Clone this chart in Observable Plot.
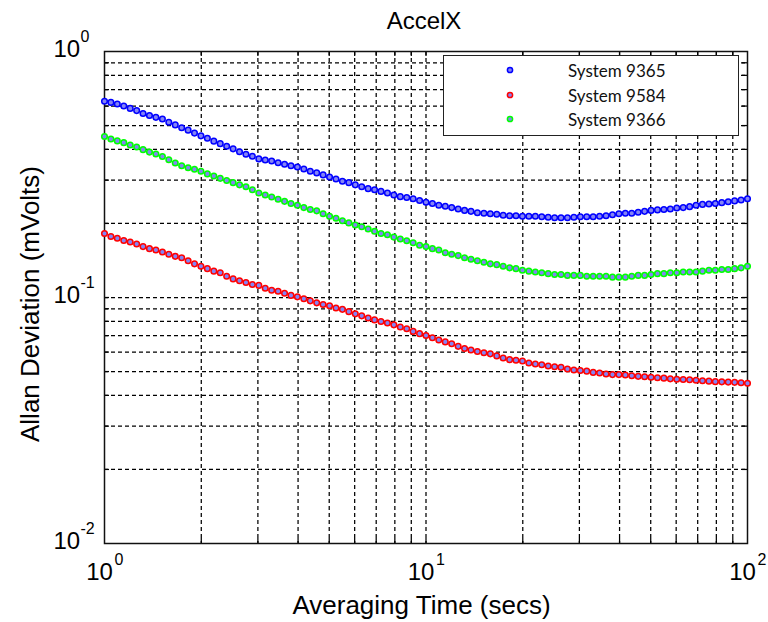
<!DOCTYPE html>
<html>
<head>
<meta charset="utf-8">
<script src="https://cdn.jsdelivr.net/npm/d3@7"></script>
<script src="https://cdn.jsdelivr.net/npm/@observablehq/plot@0.6"></script>
<style>
  html, body { margin: 0; padding: 0; background: #fff; }
  #wrap { position: relative; width: 768px; height: 622px; }
  #legend { position: absolute; left: 443px; top: 55px; width: 296px; height: 81px;
    box-sizing: border-box; border: 1.5px solid #222; background: #fff;
    font-family: Lato, "Open Sans", sans-serif; font-size: 17px; color: #111; }
  .row { position: absolute; left: 0; height: 20px; display: flex; align-items: center; }
  .row svg { position: absolute; left: 61px; }
  .row span { position: absolute; left: 124px; white-space: nowrap; }
</style>
</head>
<body>
<div id="wrap"></div>
<script>
// Averaging time (secs)
const tau = [1, 1.047, 1.096, 1.148, 1.202, 1.259, 1.318, 1.380, 1.445, 1.514,
  1.585, 1.660, 1.738, 1.820, 1.905, 1.995, 2.089, 2.188, 2.291, 2.399,
  2.512, 2.630, 2.754, 2.884, 3.020, 3.162, 3.311, 3.467, 3.631, 3.802,
  3.981, 4.169, 4.365, 4.571, 4.786, 5.012, 5.248, 5.495, 5.754, 6.026,
  6.310, 6.607, 6.918, 7.244, 7.586, 7.943, 8.318, 8.710, 9.120, 9.550,
  10.00, 10.47, 10.96, 11.48, 12.02, 12.59, 13.18, 13.80, 14.45, 15.14,
  15.85, 16.60, 17.38, 18.20, 19.05, 19.95, 20.89, 21.88, 22.91, 23.99,
  25.12, 26.30, 27.54, 28.84, 30.20, 31.62, 33.11, 34.67, 36.31, 38.02,
  39.81, 41.69, 43.65, 45.71, 47.86, 50.12, 52.48, 54.95, 57.54, 60.26,
  63.10, 66.07, 69.18, 72.44, 75.86, 79.43, 83.18, 87.10, 91.20, 95.50,
  100];

// Allan deviation (mVolts)
const sys9365 = [0.628, 0.621, 0.612, 0.600, 0.587, 0.575, 0.560, 0.549, 0.540, 0.532,
  0.516, 0.503, 0.490, 0.479, 0.466, 0.454, 0.444, 0.432, 0.422, 0.412,
  0.402, 0.391, 0.382, 0.375, 0.366, 0.362, 0.359, 0.353, 0.348, 0.343,
  0.339, 0.333, 0.326, 0.321, 0.315, 0.309, 0.303, 0.297, 0.293, 0.287,
  0.282, 0.277, 0.274, 0.270, 0.266, 0.261, 0.257, 0.255, 0.252, 0.248,
  0.244, 0.241, 0.237, 0.235, 0.232, 0.229, 0.226, 0.224, 0.221, 0.220,
  0.219, 0.218, 0.216, 0.215, 0.215, 0.214, 0.214, 0.214, 0.213, 0.212,
  0.211, 0.211, 0.211, 0.212, 0.213, 0.213, 0.213, 0.214, 0.215, 0.217,
  0.219, 0.220, 0.220, 0.222, 0.224, 0.226, 0.227, 0.228, 0.229, 0.231,
  0.232, 0.234, 0.237, 0.239, 0.240, 0.241, 0.243, 0.245, 0.247, 0.249,
  0.252];

const sys9584 = [0.182, 0.177, 0.174, 0.1705, 0.168, 0.165, 0.161, 0.158, 0.156, 0.153,
  0.150, 0.147, 0.145, 0.141, 0.137, 0.134, 0.131, 0.128, 0.126, 0.122,
  0.119, 0.117, 0.115, 0.113, 0.112, 0.109, 0.107, 0.106, 0.104, 0.102,
  0.1006, 0.0988, 0.0969, 0.0951, 0.0937, 0.0926, 0.0907, 0.0895, 0.0876, 0.0858,
  0.0842, 0.0825, 0.0811, 0.0799, 0.0788, 0.0774, 0.0759, 0.0746, 0.0728, 0.0713,
  0.0701, 0.0686, 0.0672, 0.0660, 0.0649, 0.0633, 0.0620, 0.0612, 0.0603, 0.0596,
  0.0590, 0.0579, 0.0568, 0.0559, 0.0556, 0.0552, 0.0542, 0.0537, 0.0533, 0.0527,
  0.0523, 0.0520, 0.0512, 0.0507, 0.0505, 0.0502, 0.0496, 0.0493, 0.0489, 0.0486,
  0.0486, 0.0484, 0.0481, 0.0478, 0.0476, 0.0474, 0.0472, 0.0470, 0.0467, 0.0465,
  0.0464, 0.0463, 0.0461, 0.0459, 0.0457, 0.0455, 0.0454, 0.0453, 0.0452, 0.0450,
  0.0448];

const sys9366 = [0.451, 0.441, 0.433, 0.426, 0.417, 0.409, 0.399, 0.390, 0.383, 0.374,
  0.363, 0.352, 0.343, 0.337, 0.332, 0.326, 0.318, 0.312, 0.305, 0.299,
  0.293, 0.287, 0.282, 0.274, 0.266, 0.261, 0.256, 0.251, 0.246, 0.241,
  0.237, 0.232, 0.228, 0.225, 0.219, 0.214, 0.210, 0.205, 0.201, 0.197,
  0.194, 0.190, 0.186, 0.182, 0.180, 0.176, 0.173, 0.170, 0.167, 0.163,
  0.161, 0.158, 0.156, 0.152, 0.150, 0.148, 0.145, 0.143, 0.141, 0.139,
  0.137, 0.136, 0.134, 0.132, 0.131, 0.129, 0.128, 0.127, 0.126, 0.125,
  0.124, 0.124, 0.123, 0.123, 0.123, 0.122, 0.122, 0.122, 0.122, 0.121,
  0.121, 0.121, 0.122, 0.123, 0.123, 0.124, 0.125, 0.125, 0.126, 0.126,
  0.127, 0.127, 0.127, 0.128, 0.129, 0.129, 0.130, 0.130, 0.131, 0.132,
  0.134];

const seriesNames = ["System 9365", "System 9584", "System 9366"];
const seriesColors = ["#0000ff", "#ff0000", "#00ff00"];
const markerFill = "#8484f4";

const xTicks = [1, 10, 100];
const xTickExp = ["0", "1", "2"];
const yTicks = [0.01, 0.1, 1];
const yTickExp = ["-2", "-1", "0"];
const xGrid = [2, 3, 4, 5, 6, 7, 8, 9, 10, 20, 30, 40, 50, 60, 70, 80, 90];
const yGrid = [0.02, 0.03, 0.04, 0.05, 0.06, 0.07, 0.08, 0.09, 0.1,
  0.2, 0.3, 0.4, 0.5, 0.6, 0.7, 0.8, 0.9];

const titleText = "AccelX";
const xLabel = "Averaging Time (secs)";
const yLabel = "Allan Deviation (mVolts)";

const seriesValues = [sys9365, sys9584, sys9366];
const data = [];
seriesNames.forEach((name, s) => {
  tau.forEach((t, i) => data.push({series: name, tau: t, value: seriesValues[s][i]}));
});

const W = 768, H = 622, mL = 104, mR = 21, mT = 51, mB = 79;
const fh = H - mT - mB, fw = W - mL - mR;
const font = "'Liberation Sans', Arial, sans-serif";

const chart = Plot.plot({
  width: W, height: H,
  marginLeft: mL, marginRight: mR, marginTop: mT, marginBottom: mB,
  x: {type: "log", domain: [1, 100], axis: null},
  y: {type: "log", domain: [0.01, 1], axis: null},
  color: {domain: seriesNames, range: seriesColors},
  style: {background: "white", fontFamily: font, color: "#000", overflow: "visible"},
  marks: [
    Plot.ruleX(xGrid, {x: d => d, stroke: "#000", strokeWidth: 1.25, strokeDasharray: "4,3"}),
    Plot.ruleY(yGrid, {y: d => d, stroke: "#000", strokeWidth: 1.25, strokeDasharray: "4,3"}),
    Plot.ruleX(xGrid, {x: d => d, insetBottom: fh - 5, stroke: "#000", strokeWidth: 1.25}),
    Plot.ruleX(xGrid, {x: d => d, insetTop: fh - 5, stroke: "#000", strokeWidth: 1.25}),
    Plot.ruleY(yGrid, {y: d => d, insetRight: fw - 5, stroke: "#000", strokeWidth: 1.25}),
    Plot.ruleY(yGrid, {y: d => d, insetLeft: fw - 5, stroke: "#000", strokeWidth: 1.25}),
    Plot.frame({stroke: "#111", strokeWidth: 1.5}),
    Plot.dot(data, {x: "tau", y: "value", stroke: "series", fill: markerFill, r: 2.8, strokeWidth: 1.5}),
    // x tick labels 10^k
    Plot.text(xTicks, {x: d => d, frameAnchor: "bottom", text: () => "10", dx: -5, dy: 29,
      textAnchor: "middle", fontSize: 24, lineAnchor: "middle", fill: "#000"}),
    Plot.text(xTicks, {x: d => d, frameAnchor: "bottom", text: (d, i) => xTickExp[i], dx: 14.5, dy: 16,
      textAnchor: "middle", fontSize: 16, lineAnchor: "middle", fill: "#000"}),
    // y tick labels 10^k
    Plot.text(yTicks, {y: d => d, frameAnchor: "left", text: () => "10", dx: -51, dy: -2,
      textAnchor: "start", fontSize: 24, lineAnchor: "middle", fill: "#000"}),
    Plot.text(yTicks, {y: d => d, frameAnchor: "left", text: (d, i) => yTickExp[i], dx: -24, dy: -15,
      textAnchor: "start", fontSize: 16, lineAnchor: "middle", fill: "#000"}),
    // title and axis labels
    Plot.text([titleText], {text: d => d, frameAnchor: "top", dx: -2, dy: -30, fontSize: 24,
      textAnchor: "middle", lineAnchor: "middle", fill: "#000"}),
    Plot.text([xLabel], {text: d => d, frameAnchor: "bottom", dx: -4.5, dy: 62, fontSize: 26,
      textAnchor: "middle", lineAnchor: "middle", fill: "#000"}),
    Plot.text([yLabel], {text: d => d, frameAnchor: "left", rotate: -90, dx: -74, dy: 6.5, fontSize: 26,
      textAnchor: "middle", lineAnchor: "middle", fill: "#000"})
  ]
});

const wrap = document.getElementById("wrap");
wrap.appendChild(chart);

// legend
const legend = document.createElement("div");
legend.id = "legend";
const rowTops = [4, 29, 53];
seriesNames.forEach((name, i) => {
  const row = document.createElement("div");
  row.className = "row";
  row.style.top = rowTops[i] + "px";
  row.innerHTML = `<svg width="10" height="10" viewBox="0 0 10 10"><circle cx="5" cy="5" r="2.6" fill="${markerFill}" stroke="${seriesColors[i]}" stroke-width="1.5"/></svg><span>${name}</span>`;
  legend.appendChild(row);
});
wrap.appendChild(legend);
</script>
</body>
</html>
